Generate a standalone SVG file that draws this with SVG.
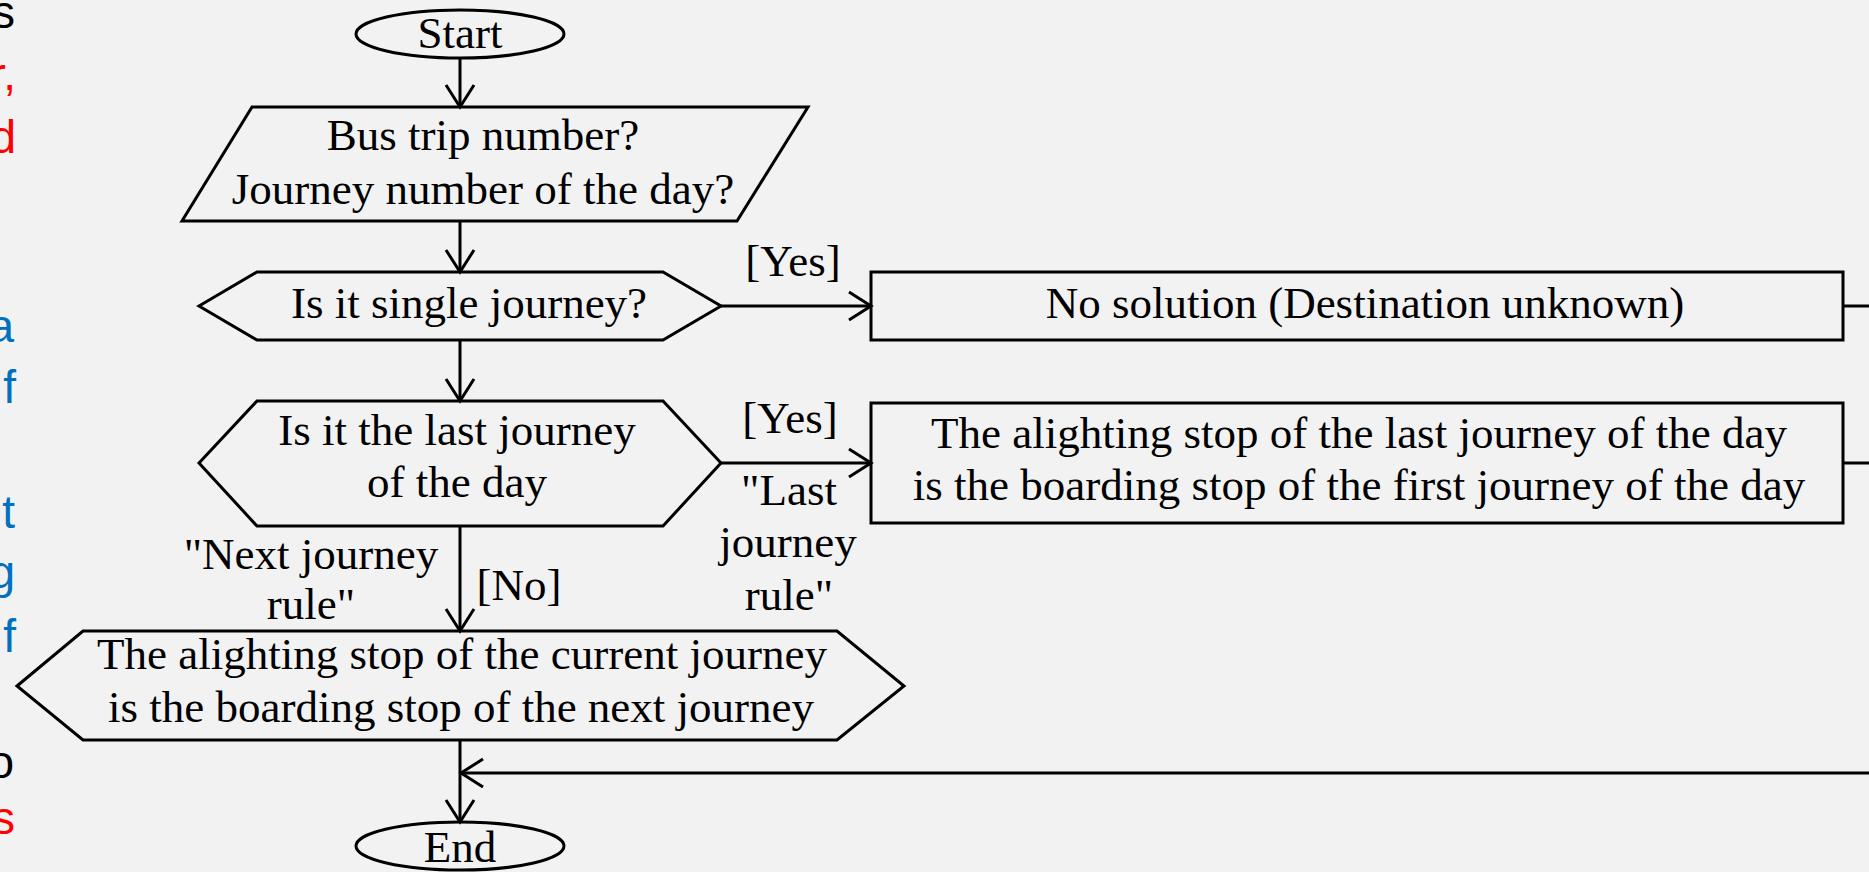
<svg xmlns="http://www.w3.org/2000/svg" width="1869" height="872" viewBox="0 0 1869 872">
<style>
.shape{fill:none;stroke:#000;stroke-width:3;stroke-linejoin:miter}
.conn{fill:none;stroke:#000;stroke-width:3}
.t{font-family:"Liberation Serif","Times New Roman",serif;font-size:45px;fill:#000;text-anchor:middle}
.side{font-family:"Liberation Sans",Arial,sans-serif;font-size:46px;text-anchor:end}
.red{fill:#ff0000}.blue{fill:#0070c0}.blk{fill:#000}
</style>
<defs>
<marker id="arr" markerUnits="userSpaceOnUse" viewBox="-2 -16 27 32" refX="22" refY="0" markerWidth="27" markerHeight="32" orient="auto" overflow="visible">
<path d="M0,-14 L22,0 L0,14" fill="none" stroke="#000" stroke-width="3"/>
</marker>
</defs>
<rect width="1869" height="872" fill="#f2f2f2"/>
<g id="side-text">
<text class="side blk" x="15" y="28">s</text>
<text class="side red" x="16" y="90">r,</text>
<text class="side red" x="16" y="153">d</text>
<text class="side blue" x="14" y="342">a</text>
<text class="side blue" x="16" y="403">f</text>
<text class="side blue" x="15" y="528">t</text>
<text class="side blue" x="15" y="588">g</text>
<text class="side blue" x="16" y="652">f</text>
<text class="side blk" x="14" y="778">o</text>
<text class="side red" x="15" y="834">s</text>
</g>
<g id="connectors">
<path class="conn" d="M460,58 V107" marker-end="url(#arr)"/>
<path class="conn" d="M460,221 V272" marker-end="url(#arr)"/>
<path class="conn" d="M460,340 V401" marker-end="url(#arr)"/>
<path class="conn" d="M460,526 V631" marker-end="url(#arr)"/>
<path class="conn" d="M460,740 V822" marker-end="url(#arr)"/>
<path class="conn" d="M721,306 H871" marker-end="url(#arr)"/>
<path class="conn" d="M721,463 H871" marker-end="url(#arr)"/>
<path class="conn" d="M1843,306 H1900 V773 H461" marker-end="url(#arr)"/>
<path class="conn" d="M1843,463 H1900"/>
<text class="t" x="793" y="276">[Yes]</text>
<text class="t" x="790" y="433">[Yes]</text>
<text class="t" x="789" y="505">"Last</text>
<text class="t" x="788" y="557">journey</text>
<text class="t" x="789" y="610">rule"</text>
<text class="t" x="311" y="569">"Next journey</text>
<text class="t" x="311" y="619">rule"</text>
<text class="t" x="519" y="600">[No]</text>
</g>
<g id="start">
<ellipse class="shape" cx="460" cy="34" rx="104" ry="24"/>
<text class="t" x="460" y="48">Start</text>
</g>
<g id="input">
<polygon class="shape" points="252,107 808,107 737,221 182,221"/>
<text class="t" x="483" y="150">Bus trip number?</text>
<text class="t" x="483" y="204">Journey number of the day?</text>
</g>
<g id="single">
<polygon class="shape" points="199,306 257,272 663,272 721,306 663,340 257,340"/>
<text class="t" x="469" y="318">Is it single journey?</text>
</g>
<g id="last">
<polygon class="shape" points="199,463 257,401 663,401 721,463 663,526 257,526"/>
<text class="t" x="457" y="445">Is it the last journey</text>
<text class="t" x="457" y="497">of the day</text>
</g>
<g id="nosolution">
<rect class="shape" x="871" y="272" width="972" height="68"/>
<text class="t" x="1365" y="318">No solution (Destination unknown)</text>
</g>
<g id="lastrule">
<rect class="shape" x="871" y="403" width="972" height="120"/>
<text class="t" x="1359" y="448">The alighting stop of the last journey of the day</text>
<text class="t" x="1359" y="500">is the boarding stop of the first journey of the day</text>
</g>
<g id="nextrule">
<polygon class="shape" points="17,686 83,631 837,631 904,686 837,740 83,740"/>
<text class="t" x="462" y="669">The alighting stop of the current journey</text>
<text class="t" x="461" y="722">is the boarding stop of the next journey</text>
</g>
<g id="end">
<ellipse class="shape" cx="460" cy="846" rx="104" ry="24"/>
<text class="t" x="460" y="862">End</text>
</g>
</svg>
